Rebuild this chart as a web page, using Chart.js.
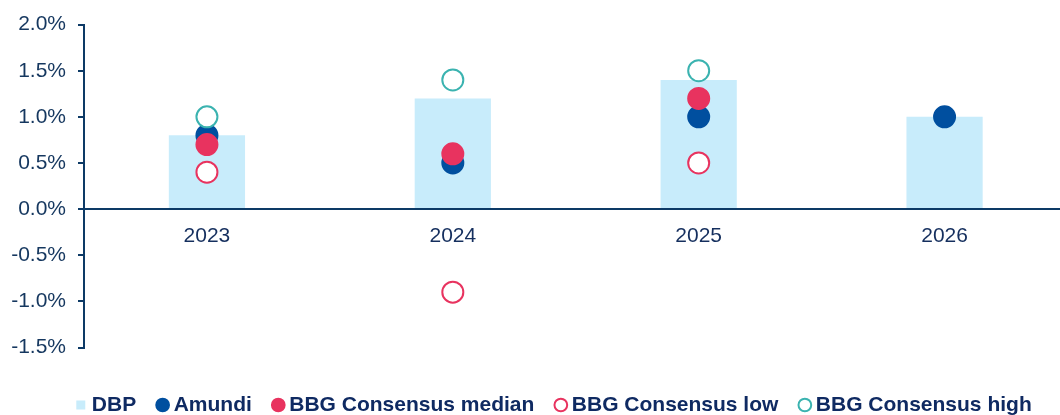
<!DOCTYPE html>
<html>
<head>
<meta charset="utf-8">
<script src="https://cdn.jsdelivr.net/npm/chart.js@4"></script>
<style>
  html, body { margin: 0; padding: 0; background: #fff; overflow: hidden; }
  #wrap { width: 1060px; height: 415px; overflow: hidden; }
</style>
</head>
<body>
<div id="wrap"><canvas id="myChart" width="1080" height="415"></canvas></div>
<script>
const years = ['2023', '2024', '2025', '2026'];
const dbp = [0.8, 1.2, 1.4, 1.0];
const amundi = [0.8, 0.5, 1.0, 1.0];
const bbgMedian = [0.7, 0.6, 1.2, null];
const bbgLow = [0.4, -0.9, 0.5, null];
const bbgHigh = [1.0, 1.4, 1.5, null];
const yTicks = [-1.5, -1.0, -0.5, 0.0, 0.5, 1.0, 1.5, 2.0];

// nudge the legend a bit right, like the original
const shiftLegend = {
    id: 'shiftLegend',
    afterLayout(chart) {
        chart.legend.left += 16;
        chart.legend.right += 16;
    }
};

document.addEventListener('DOMContentLoaded', () => {
    const ctx = document.getElementById('myChart').getContext('2d');
    const navy = '#0d3a66';

    const pointSet = (label, values, fill, border, order) => ({
        type: 'line',
        label: label,
        data: values,
        showLine: false,
        pointStyle: 'circle',
        pointRadius: 10.5,
        pointHoverRadius: 10.5,
        pointBorderWidth: 2,
        borderWidth: 2,
        backgroundColor: fill,
        borderColor: border,
        order: order
    });

    const data = {
        labels: years,
        datasets: [
            {
                type: 'bar',
                label: 'DBP',
                data: dbp,
                backgroundColor: '#c8ecfb',
                borderWidth: 0,
                pointStyle: 'rect',
                barPercentage: 0.31,
                categoryPercentage: 1,
                order: 5
            },
            pointSet('Amundi', amundi, '#004f9f', '#004f9f', 4),
            pointSet('BBG Consensus median', bbgMedian, '#e8335f', '#e8335f', 3),
            pointSet('BBG Consensus low', bbgLow, '#ffffff', '#e8335f', 2),
            pointSet('BBG Consensus high', bbgHigh, '#ffffff', '#3bb3b0', 1)
        ]
    };

    const options = {
        responsive: false,
        animation: false,
        layout: { padding: { top: 19, right: 0, left: 0, bottom: -10.5 } },
        scales: {
            x: {
                position: { y: 0 },
                grid: { display: false },
                border: { display: true, color: navy, width: 2 },
                ticks: {
                    color: '#152f5e',
                    font: { family: 'Liberation Sans', size: 21 },
                    padding: 6
                }
            },
            y: {
                min: -1.5,
                max: 2.0,
                afterFit: (scale) => { scale.width = 84; },
                afterBuildTicks: (axis) => {
                    axis.ticks = yTicks.map(v => ({ value: v }));
                },
                grid: {
                    drawOnChartArea: false,
                    drawTicks: true,
                    tickLength: 6,
                    color: navy,
                    lineWidth: 2
                },
                border: { display: true, color: navy, width: 2 },
                ticks: {
                    color: '#15375f',
                    font: { family: 'Liberation Sans', size: 21 },
                    padding: 12,
                    callback: (v) => v.toFixed(1) + '%'
                }
            }
        },
        plugins: {
            legend: {
                position: 'bottom',
                title: { display: true, text: ' ', font: { size: 10 }, padding: { top: 5, bottom: 4 } },
                labels: {
                    usePointStyle: true,
                    boxWidth: 1,
                    boxHeight: 9,
                    padding: 26,
                    color: '#0f2a62',
                    font: { family: 'Liberation Sans', size: 21, weight: 'bold' },
                    sort: (a, b) => a.datasetIndex - b.datasetIndex
                }
            },
            tooltip: { enabled: false }
        }
    };

    new Chart(ctx, { type: 'bar', data: data, options: options, plugins: [shiftLegend] });
});
</script>
</body>
</html>
